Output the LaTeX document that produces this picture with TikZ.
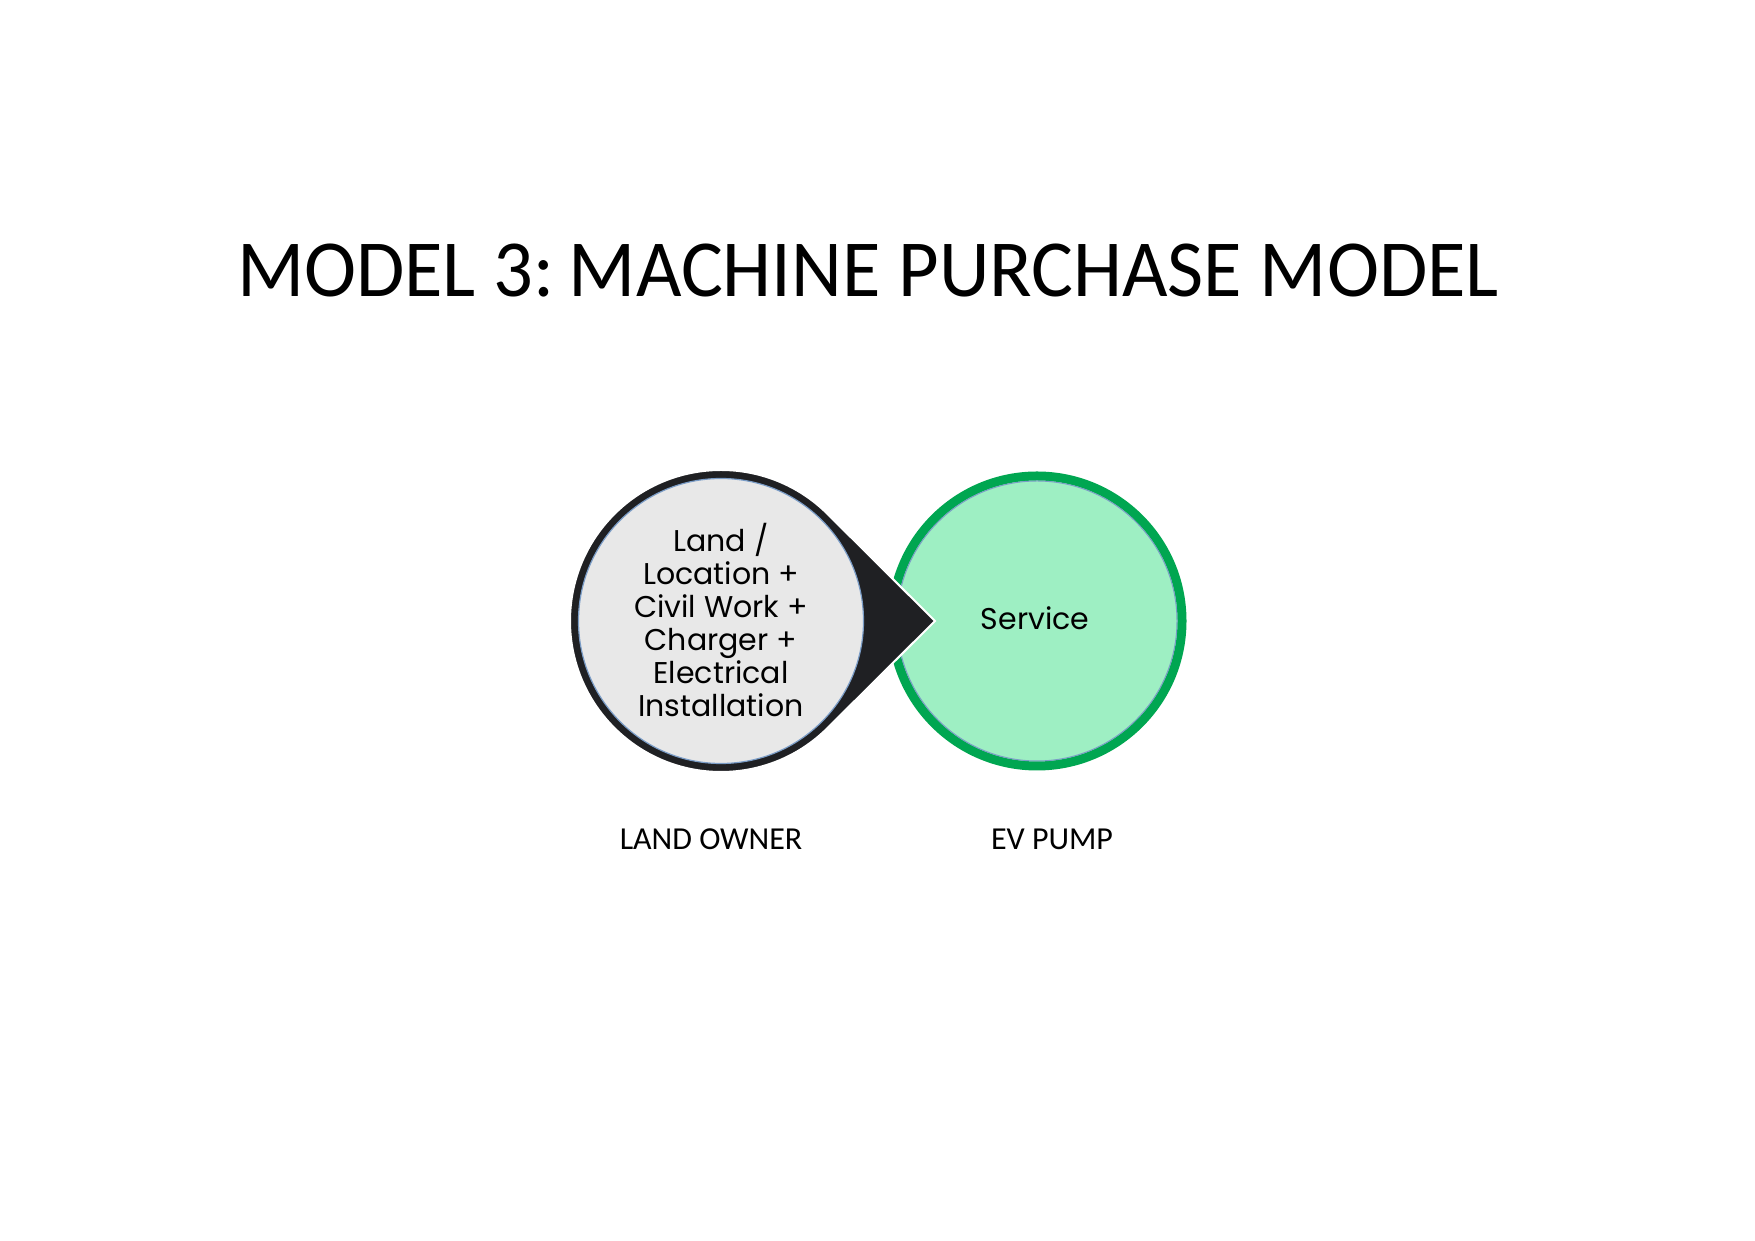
\documentclass[tikz,border=0pt]{standalone}
\usepackage{fontspec}
\setmainfont{Carlito}
\newfontfamily\circfont{Poppins}
\definecolor{darkring}{HTML}{1F2023}
\definecolor{greyfill}{HTML}{E8E8E8}
\definecolor{thinblue}{HTML}{7A9CC6}
\definecolor{greenring}{HTML}{00A651}
\definecolor{greenfill}{HTML}{9EEFC3}
\tikzset{
  labeltext/.style={font=\fontsize{32}{36}\selectfont, anchor=base, inner sep=0pt},
  circtext/.style={font=\circfont\fontsize{30}{33}\selectfont, align=center, inner sep=0pt}
}
\begin{document}
\begin{tikzpicture}[x=1pt,y=1pt]
\useasboundingbox[fill=white] (0,0) rectangle (1755,1241);
% title
\node[anchor=base, inner sep=0pt, font=\fontsize{81}{95}\selectfont] (title) at (868,944) {\scalebox{0.97}[1]{MODEL 3:\kern-0.12em{} MACHINE PURCHASE MODEL}};
% green circle
\node[circle, draw=greenring, line width=9pt, fill=greenfill, minimum size=290pt, inner sep=0pt] (evc) at (1037,620) {};
\draw[thinblue, line width=1pt] (evc.center) circle[radius=140];
% black teardrop
\coordinate (tip) at (935,620);
\fill[darkring, draw=white, line width=2pt] (tip) -- (827.77,726.77) arc[start angle=45, end angle=315, radius=151] -- cycle;
% grey inner circle
\node[circle, fill=greyfill, draw=thinblue, line width=1.2pt, minimum size=285pt, inner sep=0pt] (landc) at (721,620) {};
\node[circtext] (landtext) at (721,621) {Land /\\Location +\\Civil Work +\\Charger +\\Electrical\\Installation};
\node[circtext, anchor=base] (service) at (1035,611) {Service};
% labels
\node[labeltext] (owner) at (711,391) {LAND OWNER};
\node[labeltext] (pump) at (1052,391) {EV PUMP};
\end{tikzpicture}
\end{document}
